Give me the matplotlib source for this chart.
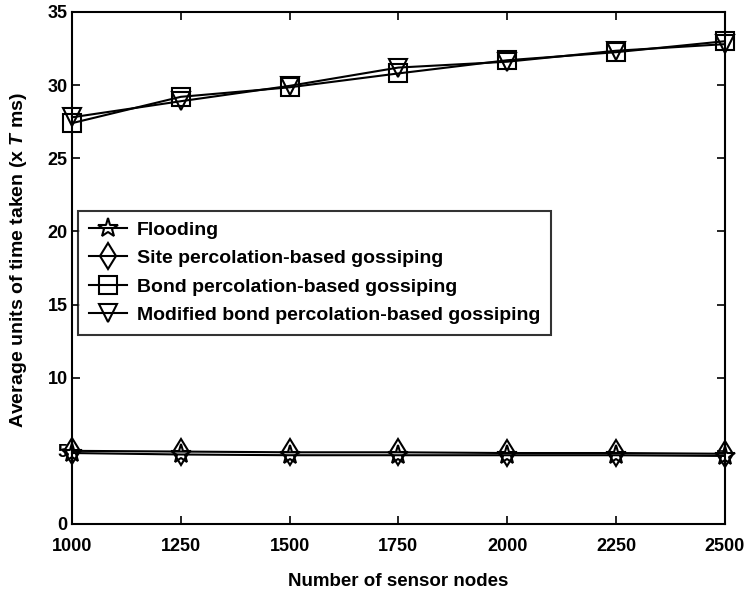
import matplotlib.pyplot as plt

plt.rcParams['font.family'] = ['Liberation Sans', 'DejaVu Sans']
plt.rcParams['font.weight'] = 'bold'
plt.rcParams['axes.labelweight'] = 'bold'
plt.rcParams['mathtext.fontset'] = 'custom'
plt.rcParams['mathtext.it'] = 'Liberation Sans:italic:bold'

# number of sensor nodes
nodes = [1000, 1250, 1500, 1750, 2000, 2250, 2500]

# average units of time taken (x T ms)
flooding = [4.85, 4.75, 4.7, 4.7, 4.7, 4.7, 4.65]
site = [5.0, 4.95, 4.9, 4.9, 4.85, 4.85, 4.8]
bond = [27.4, 29.2, 29.85, 30.8, 31.7, 32.25, 33.0]
modified = [27.8, 28.9, 29.95, 31.2, 31.6, 32.35, 32.8]

series = [
    ("Flooding", flooding, "*"),
    ("Site percolation-based gossiping", site, "d"),
    ("Bond percolation-based gossiping", bond, "s"),
    ("Modified bond percolation-based gossiping", modified, "v"),
]

fig = plt.figure(figsize=(7.46, 5.93), dpi=100)
ax = fig.add_axes([0.0965, 0.1164, 0.875, 0.8634])

for nome, valores, marcador in series:
    tam = 15 if marcador == "*" else 13
    ax.plot(nodes, valores, color="black", linewidth=1.5, marker=marcador,
            markersize=tam, markerfacecolor="none", markeredgecolor="black",
            markeredgewidth=1.5, label=nome, clip_on=False)

ax.set_xlim(1000, 2500)
ax.set_ylim(0, 35)
ax.set_xticks(nodes)
ax.set_yticks(range(0, 36, 5))
ax.tick_params(direction="in", length=6, width=1.2, labelsize=13, top=True, right=True)
ax.tick_params(axis="x", pad=10)
ax.tick_params(axis="y", pad=3)
for lado in ax.spines.values():
    lado.set_linewidth(1.5)

ax.set_xlabel("Number of sensor nodes", fontsize=13.5, labelpad=13)
ax.set_ylabel("Average units of time taken (x $\\it{T}$ ms)", fontsize=14)
ax.yaxis.set_label_coords(-0.066, 0.516)

leg = ax.legend(loc="upper left", bbox_to_anchor=(0.009, 0.612), fontsize=14,
                frameon=True, fancybox=False, edgecolor="black",
                borderpad=0.55, labelspacing=0.55, handlelength=2.0,
                handletextpad=0.5, borderaxespad=0)
leg.get_frame().set_linewidth(1.5)

plt.savefig("out.png", dpi=100)
